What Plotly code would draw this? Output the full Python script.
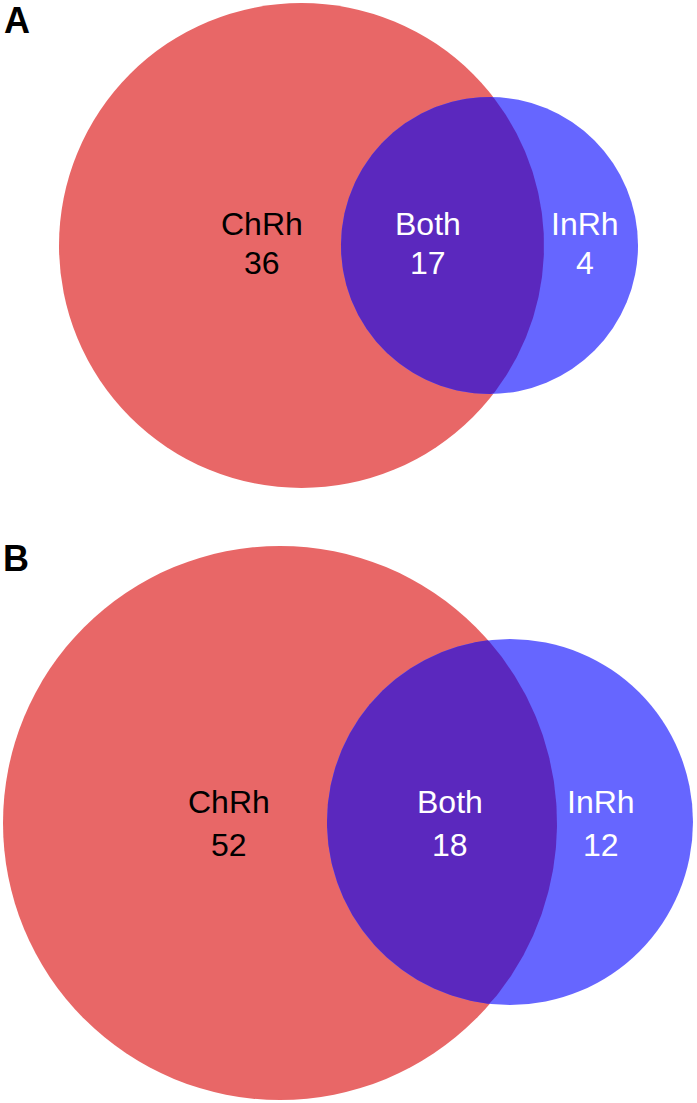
import numpy as np
import plotly.graph_objects as go

# ---- data ----
panels = ["A", "B"]
set_names = ["ChRh", "Both", "InRh"]
counts_A = [36, 17, 4]
counts_B = [52, 18, 12]

# ---- layout geometry (pixel space) ----
W, H = 697, 1103
geom = {
    "A": dict(red=(301.5, 245.5, 242.5), blue=(489.5, 245.5, 148.5),
              text_x=[262, 428, 585], name_y=224, num_y=263, label=(17, 20)),
    "B": dict(red=(280, 823, 277), blue=(510, 822, 183),
              text_x=[229, 450, 601], name_y=802, num_y=845, label=(16, 558)),
}
RED = "#E86767"
BLUE = "#6666FF"
PURPLE = "#5B28BE"
FONT = "Liberation Sans, Arial, Helvetica, sans-serif"

fig = go.Figure()
shapes = []
annotations = []


def lens(c1, c2, n=720):
    t = np.linspace(0, 2 * np.pi, n, endpoint=False)
    pts = []
    for (cx, cy, r), (ox, oy, orr) in ((c1, c2), (c2, c1)):
        x = cx + r * np.cos(t)
        y = cy + r * np.sin(t)
        m = (x - ox) ** 2 + (y - oy) ** 2 <= orr ** 2
        pts.append(np.c_[x[m], y[m]])
    p = np.vstack(pts)
    c = p.mean(axis=0)
    a = np.arctan2(p[:, 1] - c[1], p[:, 0] - c[0])
    p = p[np.argsort(a)]
    return p[:, 0], p[:, 1]


for pan, counts in zip(panels, [counts_A, counts_B]):
    g = geom[pan]
    for (cx, cy, r), col in ((g["red"], RED), (g["blue"], BLUE)):
        shapes.append(dict(type="circle", xref="x", yref="y",
                           x0=cx - r, x1=cx + r, y0=cy - r, y1=cy + r,
                           fillcolor=col, line=dict(width=0), layer="below"))
    lx, ly = lens(g["red"], g["blue"])
    fig.add_trace(go.Scatter(x=np.append(lx, lx[0]), y=np.append(ly, ly[0]),
                             mode="lines", fill="toself", fillcolor=PURPLE,
                             line=dict(width=0, color=PURPLE),
                             hoverinfo="skip", showlegend=False))
    for i, (nm, v) in enumerate(zip(set_names, counts)):
        col = "black" if i == 0 else "white"
        for txt, yy in ((nm, g["name_y"]), (str(v), g["num_y"])):
            annotations.append(dict(x=g["text_x"][i], y=yy, xref="x", yref="y",
                                    text=txt, showarrow=False,
                                    font=dict(family=FONT, size=32, color=col),
                                    xanchor="center", yanchor="middle"))
    annotations.append(dict(x=g["label"][0], y=g["label"][1], xref="x", yref="y",
                            text="<b>%s</b>" % pan, showarrow=False,
                            font=dict(family=FONT, size=36, color="black"),
                            xanchor="center", yanchor="middle"))

fig.update_layout(
    width=W, height=H, autosize=False,
    margin=dict(l=0, r=0, t=0, b=0),
    paper_bgcolor="white", plot_bgcolor="white",
    shapes=shapes, annotations=annotations,
    xaxis=dict(range=[0, W], visible=False, fixedrange=True),
    yaxis=dict(range=[H, 0], visible=False, fixedrange=True),
    showlegend=False,
)
fig.write_html("out.html", config={"displayModeBar": False},
               post_script="document.body.style.margin='0';document.body.style.overflow='hidden';")
